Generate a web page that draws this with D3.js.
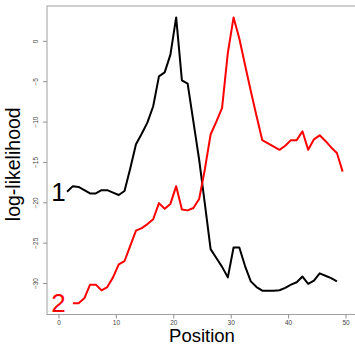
<!DOCTYPE html>
<html>
<head>
<meta charset="utf-8">
<script src="https://cdn.jsdelivr.net/npm/d3@7"></script>
<style>
  body { margin: 0; background: #fff; }
  text { font-family: "Liberation Sans", Arial, sans-serif; }
</style>
</head>
<body>
<script>
// position along the sequence, and log-likelihood per start
const pos1 = [1.5, 2.5, 3.5, 4.5, 5.5, 6.5, 7.5, 8.5, 9.5, 10.5, 11.5, 12.5,
  13.5, 14.5, 15.5, 16.5, 17.5, 18.5, 19.5, 20.5, 21.5, 22.5, 23.5, 24.5,
  25.5, 26.5, 27.5, 28.5, 29.5, 30.5, 31.5, 32.5, 33.5, 34.5, 35.5, 36.5,
  37.5, 38.5, 39.5, 40.5, 41.5, 42.5, 43.5, 44.5, 45.5, 46.5, 47.5, 48.5];
const ll1 = [-18.7, -18.0, -18.1, -18.5, -18.9, -18.9, -18.5, -18.5, -18.8, -19.1, -18.6, -15.8,
  -12.8, -11.5, -10.1, -8.1, -4.4, -3.9, -1.7, 2.9, -4.9, -5.3, -10.0, -14.7,
  -20.2, -25.8, -26.9, -28.0, -29.3, -25.6, -25.6, -27.9, -29.8, -30.5, -30.95, -30.95,
  -30.95, -30.9, -30.6, -30.2, -29.9, -29.2, -30.1, -29.7, -28.8, -29.1, -29.4, -29.8];

const pos2 = [2.5, 3.5, 4.5, 5.5, 6.5, 7.5, 8.5, 9.5, 10.5, 11.5, 12.5, 13.5,
  14.5, 15.5, 16.5, 17.5, 18.5, 19.5, 20.5, 21.5, 22.5, 23.5, 24.5, 25.5,
  26.5, 27.5, 28.5, 29.5, 30.5, 31.5, 32.5, 33.5, 34.5, 35.5, 36.5, 37.5,
  38.5, 39.5, 40.5, 41.5, 42.5, 43.5, 44.5, 45.5, 46.5, 47.5, 48.5, 49.5];
const ll2 = [-32.5, -32.5, -31.9, -30.2, -30.2, -30.9, -30.5, -29.3, -27.7, -27.3, -25.4, -23.5,
  -23.2, -22.7, -22.1, -20.1, -20.8, -20.2, -18.0, -20.9, -21.0, -20.7, -19.6, -15.9,
  -11.6, -10.0, -8.3, -1.5, 2.9, 0.3, -3.0, -6.2, -9.3, -12.3, -12.7, -13.1,
  -13.5, -13.0, -12.3, -12.3, -11.2, -13.5, -12.2, -11.7, -12.4, -13.2, -13.9, -16.2];

const xTicks = [0, 10, 20, 30, 40, 50];
const yTicks = [-30, -25, -20, -15, -10, -5, 0];

const W = 355, H = 346;
const mLeft = 47, mTop = 6, mRight = 357, mBottom = 314.5;

const x = d3.scaleLinear().domain([-2, 52]).range([mLeft, mRight]);
const y = d3.scaleLinear().domain([-33.9, 4.32]).range([mBottom, mTop]);

const svg = d3.select("body").append("svg")
  .attr("width", W)
  .attr("height", H);

// box
svg.append("rect")
  .attr("x", mLeft)
  .attr("y", mTop)
  .attr("width", mRight - mLeft)
  .attr("height", mBottom - mTop)
  .attr("fill", "none")
  .attr("stroke", "#a0a0a0")
  .attr("stroke-width", 1);

const xAxis = svg.append("g")
  .attr("transform", `translate(0,${mBottom})`)
  .call(d3.axisBottom(x).tickValues(xTicks).tickSize(4).tickSizeOuter(0));
xAxis.select(".domain").remove();
xAxis.selectAll("line").attr("stroke", "#909090");
xAxis.selectAll("text")
  .attr("y", 10.5).attr("dy", 0)
  .attr("font-size", 6.5).attr("fill", "#444")
  .attr("font-family", "Liberation Sans, Arial, sans-serif");

const yAxis = svg.append("g")
  .attr("transform", `translate(${mLeft},0)`)
  .call(d3.axisLeft(y).tickValues(yTicks).tickSize(4).tickSizeOuter(0));
yAxis.select(".domain").remove();
yAxis.selectAll("line").attr("stroke", "#909090");
yAxis.selectAll("text")
  .attr("x", 0).attr("dy", 0)
  .attr("text-anchor", "middle")
  .attr("transform", "translate(-9.5,0) rotate(-90)")
  .attr("font-size", 6.5).attr("fill", "#444")
  .attr("font-family", "Liberation Sans, Arial, sans-serif");

const line = d3.line()
  .x((d) => x(d[0]))
  .y((d) => y(d[1]));

const series = [
  { name: "1", pos: pos1, ll: ll1, color: "#000000" },
  { name: "2", pos: pos2, ll: ll2, color: "#ff0000" }
];

const g = svg.append("g");
g.selectAll("path.series").data(series).enter()
  .append("path")
  .attr("class", "series")
  .attr("fill", "none")
  .attr("stroke", (d) => d.color)
  .attr("stroke-width", 2)
  .attr("stroke-linejoin", "round")
  .attr("d", (d) => line(d.pos.map((p, i) => [p, d.ll[i]])));

// series labels at x = 0
g.selectAll("text.lab").data(series).enter()
  .append("text")
  .attr("class", "lab")
  .attr("x", x(0))
  .attr("y", (d) => y(d.ll[0]))
  .attr("dy", "0.35em")
  .attr("text-anchor", "middle")
  .attr("font-size", 26)
  .attr("fill", (d) => d.color)
  .text((d) => d.name);

svg.append("text")
  .attr("transform", `translate(20,${(mTop + mBottom) / 2 + 4}) rotate(-90)`)
  .attr("text-anchor", "middle")
  .attr("font-size", 19.5)
  .attr("fill", "#000")
  .text("log-likelihood");

svg.append("text")
  .attr("x", (mLeft + mRight) / 2)
  .attr("y", 342)
  .attr("text-anchor", "middle")
  .attr("font-size", 18.5)
  .attr("fill", "#000")
  .text("Position");
</script>
</body>
</html>
